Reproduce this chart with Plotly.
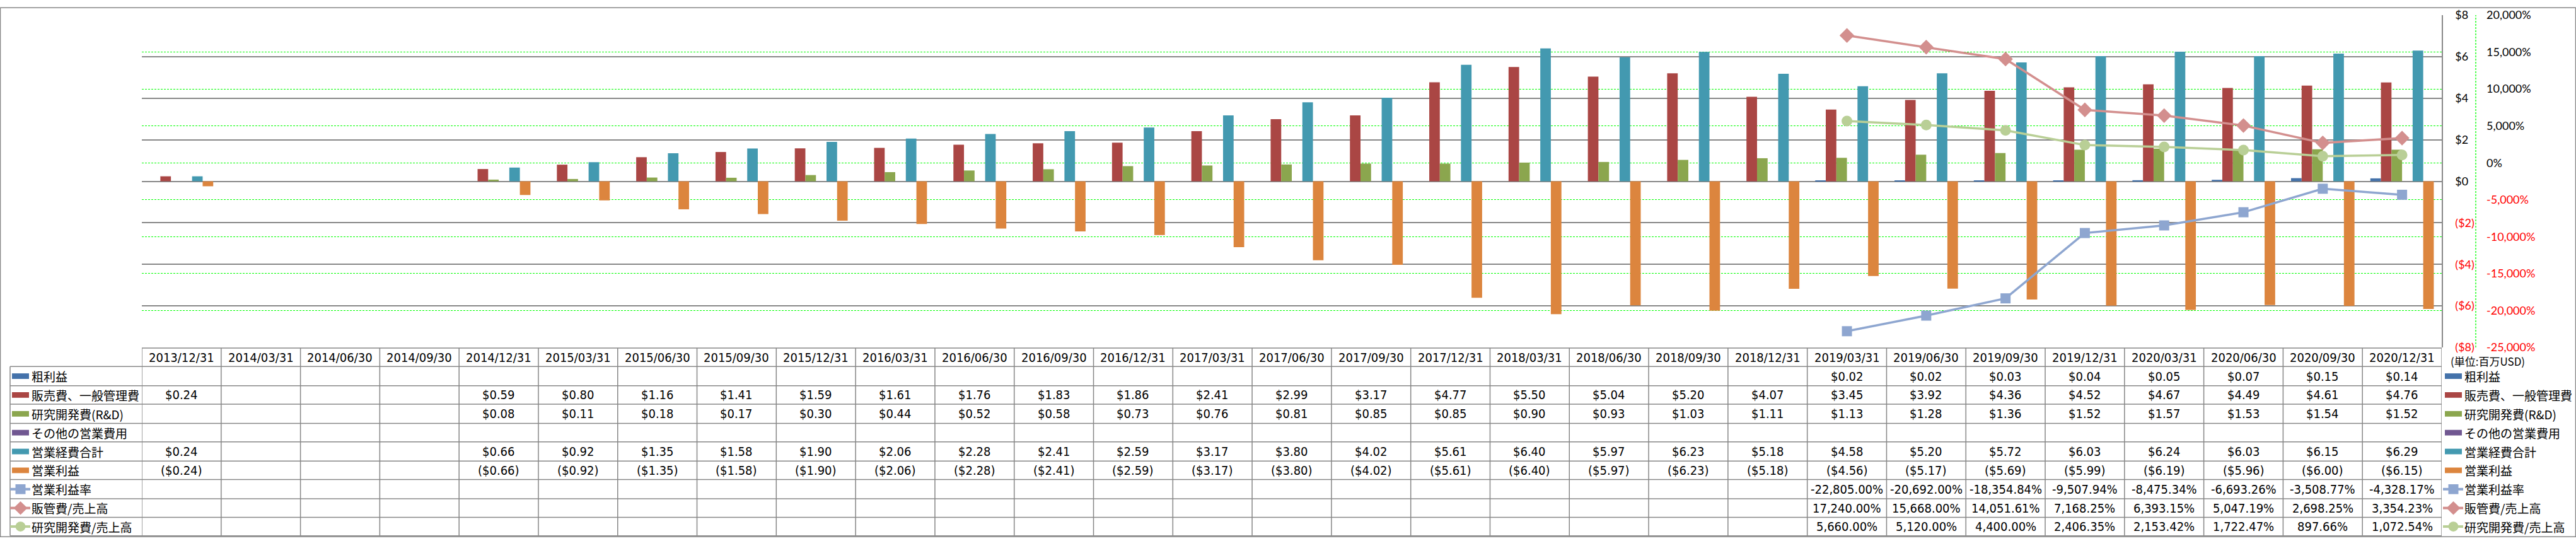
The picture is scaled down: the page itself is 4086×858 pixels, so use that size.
import plotly.graph_objects as go

# ---------------- data ----------------
categories = ["2013/12/31", "2014/03/31", "2014/06/30", "2014/09/30", "2014/12/31", "2015/03/31",
              "2015/06/30", "2015/09/30", "2015/12/31", "2016/03/31", "2016/06/30", "2016/09/30",
              "2016/12/31", "2017/03/31", "2017/06/30", "2017/09/30", "2017/12/31", "2018/03/31",
              "2018/06/30", "2018/09/30", "2018/12/31", "2019/03/31", "2019/06/30", "2019/09/30",
              "2019/12/31", "2020/03/31", "2020/06/30", "2020/09/30", "2020/12/31"]

gross_profit = [None, None, None, None, None, None, None, None, None, None, None, None, None, None,
                None, None, None, None, None, None, None, 0.02, 0.02, 0.03, 0.04, 0.05, 0.07, 0.15, 0.14]
sga = [0.24, None, None, None, 0.59, 0.80, 1.16, 1.41, 1.59, 1.61, 1.76, 1.83, 1.86, 2.41, 2.99,
       3.17, 4.77, 5.50, 5.04, 5.20, 4.07, 3.45, 3.92, 4.36, 4.52, 4.67, 4.49, 4.61, 4.76]
rnd = [None, None, None, None, 0.08, 0.11, 0.18, 0.17, 0.30, 0.44, 0.52, 0.58, 0.73, 0.76, 0.81,
       0.85, 0.85, 0.90, 0.93, 1.03, 1.11, 1.13, 1.28, 1.36, 1.52, 1.57, 1.53, 1.54, 1.52]
other_opex = [None, None, None, None, None, None, None, None, None, None, None, None, None, None,
              None, None, None, None, None, None, None, None, None, None, None, None, None, None, None]
total_opex = [0.24, None, None, None, 0.66, 0.92, 1.35, 1.58, 1.90, 2.06, 2.28, 2.41, 2.59, 3.17, 3.80,
              4.02, 5.61, 6.40, 5.97, 6.23, 5.18, 4.58, 5.20, 5.72, 6.03, 6.24, 6.03, 6.15, 6.29]
op_income = [-0.24, None, None, None, -0.66, -0.92, -1.35, -1.58, -1.90, -2.06, -2.28, -2.41, -2.59,
             -3.17, -3.80, -4.02, -5.61, -6.40, -5.97, -6.23, -5.18, -4.56, -5.17, -5.69, -5.99,
             -6.19, -5.96, -6.00, -6.15]
op_margin = [None, None, None, None, None, None, None, None, None, None, None, None, None, None,
             None, None, None, None, None, None, None, -22805.00, -20692.00, -18354.84, -9507.94,
             -8475.34, -6693.26, -3508.77, -4328.17]
sga_ratio = [None, None, None, None, None, None, None, None, None, None, None, None, None, None,
             None, None, None, None, None, None, None, 17240.00, 15668.00, 14051.61, 7168.25,
             6393.15, 5047.19, 2698.25, 3354.23]
rnd_ratio = [None, None, None, None, None, None, None, None, None, None, None, None, None, None,
             None, None, None, None, None, None, None, 5660.00, 5120.00, 4400.00, 2406.35,
             2153.42, 1722.47, 897.66, 1072.54]

y1_ticks = [-8, -6, -4, -2, 0, 2, 4, 6, 8]
y2_ticks = [-25000, -20000, -15000, -10000, -5000, 0, 5000, 10000, 15000, 20000]
unit_label = "(単位:百万USD)"

# ---------------- styles ----------------
W, H = 4086, 858
PX_L, PX_R, PX_AX2, PY_T, PY_B = 225, 3873, 3927, 13, 551
GRAY = "#878787"
GREEN_GRID = "#00FF00"
GREEN_DASH = "3px,2px"
NUM_FONT = "Liberation Sans Narrow, Arial Narrow, DejaVu Sans Condensed, sans-serif"
JP_FONT = "Noto Sans CJK JP, sans-serif"
AX_FONT = "Lato, Liberation Sans, sans-serif"

def fx(px):
    return (px - PX_L) / (PX_AX2 - PX_L)

def fy(py):
    return (PY_B - py) / (PY_B - PY_T)

def money(v):
    if v is None:
        return ""
    return f"${v:.2f}" if v >= 0 else f"(${-v:.2f})"

def pct(v):
    if v is None:
        return ""
    return f"{v:,.2f}%"

rows = [
    ("粗利益", gross_profit, money, "bar", "#4472AA", None),
    ("販売費、一般管理費", sga, money, "bar", "#AA4644", None),
    ("研究開発費(R&D)", rnd, money, "bar", "#8BA64E", None),
    ("その他の営業費用", other_opex, money, "bar", "#705791", None),
    ("営業経費合計", total_opex, money, "bar", "#4399B0", None),
    ("営業利益", op_income, money, "bar", "#DC853E", None),
    ("営業利益率", op_margin, pct, "line", "#8EA6D0", "square"),
    ("販管費/売上高", sga_ratio, pct, "line", "#D38F8E", "diamond"),
    ("研究開発費/売上高", rnd_ratio, pct, "line", "#B9CF96", "circle"),
]

fig = go.Figure()

for name, vals, _, kind, color, sym in rows:
    if kind == "bar":
        fig.add_trace(go.Bar(x=categories, y=vals, name=name, marker=dict(color=color, line=dict(width=0)),
                             yaxis="y", showlegend=False))
for name, vals, _, kind, color, sym in rows:
    if kind == "line":
        size = {"square": 16, "diamond": 18, "circle": 17}[sym]
        fig.add_trace(go.Scatter(x=categories, y=vals, name=name, mode="lines+markers",
                                 line=dict(color=color, width=3.5),
                                 marker=dict(symbol=sym, size=size, color=color),
                                 yaxis="y2", showlegend=False))

def y1_text(v):
    if v < 0:
        return f'<span style="color:#FF0000">(${-v})</span>'
    return f"${v}"

def y2_text(v):
    s = f"{v:,}%"
    if v < 0:
        return f'<span style="color:#FF0000">{s}</span>'
    return s

shapes = []
annotations = []

# outer border
shapes.append(dict(type="rect", xref="paper", yref="paper", x0=fx(0.5), x1=fx(4085.5), y0=fy(857.5), y1=fy(1),
                   line=dict(color=GRAY, width=1.5), fillcolor="rgba(0,0,0,0)", layer="below"))
# secondary axis dashed line
shapes.append(dict(type="line", xref="paper", yref="paper", x0=1, x1=1, y0=0, y1=1,
                   line=dict(color=GREEN_GRID, width=1.3, dash=GREEN_DASH)))

# table grid
row_bounds = [582, 613, 643, 674, 704, 735, 765, 796, 826, 856]
shapes.append(dict(type="line", xref="paper", yref="paper", x0=fx(PX_L), x1=fx(PX_R), y0=fy(552), y1=fy(552),
                   line=dict(color=GRAY, width=1.5)))
for b in row_bounds:
    shapes.append(dict(type="line", xref="paper", yref="paper", x0=fx(16), x1=fx(PX_R), y0=fy(b), y1=fy(b),
                       line=dict(color=GRAY, width=1.5)))
shapes.append(dict(type="line", xref="paper", yref="paper", x0=fx(16), x1=fx(16), y0=fy(582), y1=fy(856),
                   line=dict(color=GRAY, width=1.5)))
for i in range(len(categories) + 1):
    shapes.append(dict(type="line", xref="x", yref="paper", x0=i - 0.5, x1=i - 0.5, y0=fy(552), y1=fy(856),
                       line=dict(color=GRAY, width=1.5)))

# header
for c in categories:
    annotations.append(dict(x=c, xref="x", y=fy(567), yref="paper", text=c, showarrow=False,
                            font=dict(family=NUM_FONT, size=20, color="#000000"), xanchor="center", yanchor="middle"))

# rows
for r, (name, vals, fmt, kind, color, sym) in enumerate(rows):
    top, bot = row_bounds[r], row_bounds[r + 1]
    yc = (top + bot) / 2
    for c, v in zip(categories, vals):
        if v is not None:
            annotations.append(dict(x=c, xref="x", y=fy(yc), yref="paper", text=fmt(v), showarrow=False,
                                    font=dict(family=NUM_FONT, size=20, color="#000000"),
                                    xanchor="center", yanchor="middle"))
    for kx0, kx1, tx in ((19, 46, 48), (3878, 3905, 3907)):
        annotations.append(dict(x=fx(tx), xref="paper", y=fy(yc), yref="paper", text=name, showarrow=False,
                                font=dict(family=JP_FONT, size=19, color="#000000"),
                                xanchor="left", yanchor="middle"))
        if kind == "bar":
            shapes.append(dict(type="rect", xref="paper", yref="paper", x0=fx(kx0), x1=fx(kx1),
                               y0=fy(yc + 4.5), y1=fy(yc - 4.5), line=dict(width=0), fillcolor=color))
        else:
            shapes.append(dict(type="line", xref="paper", yref="paper", x0=fx(kx0 - 3), x1=fx(kx1 + 2),
                               y0=fy(yc), y1=fy(yc), line=dict(color=color, width=4)))
            cx = (kx0 + kx1) / 2
            if sym == "square":
                shapes.append(dict(type="rect", xref="paper", yref="paper", x0=fx(cx - 8), x1=fx(cx + 8),
                                   y0=fy(yc + 8), y1=fy(yc - 8), line=dict(width=0), fillcolor=color))
            elif sym == "circle":
                shapes.append(dict(type="circle", xref="paper", yref="paper", x0=fx(cx - 8), x1=fx(cx + 8),
                                   y0=fy(yc + 8), y1=fy(yc - 8), line=dict(width=0), fillcolor=color))
            else:
                path = (f"M {fx(cx - 11)},{fy(yc)} L {fx(cx)},{fy(yc - 11)} "
                        f"L {fx(cx + 11)},{fy(yc)} L {fx(cx)},{fy(yc + 11)} Z")
                shapes.append(dict(type="path", xref="paper", yref="paper", path=path,
                                   line=dict(width=0), fillcolor=color))

annotations.append(dict(x=fx(3885), xref="paper", y=fy(573), yref="paper", text=unit_label, showarrow=False,
                        font=dict(family=JP_FONT, size=17, color="#000000"), xanchor="left", yanchor="middle"))

fig.update_layout(
    width=W, height=H,
    margin=dict(l=PX_L, r=W - PX_AX2, t=PY_T, b=H - PY_B, pad=0),
    paper_bgcolor="#FFFFFF", plot_bgcolor="#FFFFFF",
    barmode="group", bargap=0.2, bargroupgap=0,
    showlegend=False,
    xaxis=dict(domain=[0, (PX_R - PX_L) / (PX_AX2 - PX_L)], type="category", range=[-0.5, len(categories) - 0.5],
               showticklabels=False, showgrid=False, zeroline=False, showline=False, ticks=""),
    yaxis=dict(side="right", range=[-8, 8], tickvals=y1_ticks, ticktext=[y1_text(v) for v in y1_ticks],
               showgrid=True, gridcolor=GRAY, gridwidth=1.5, zeroline=True, zerolinecolor=GRAY, zerolinewidth=1.5,
               showline=True, linecolor=GRAY, linewidth=1.5, ticks="", ticklabelstandoff=16,
               tickfont=dict(family=AX_FONT, size=18, color="#000000")),
    yaxis2=dict(overlaying="y", side="right", anchor="free", position=1, range=[-25000, 20000],
                tickvals=y2_ticks, ticktext=[y2_text(v) for v in y2_ticks],
                showgrid=True, gridcolor=GREEN_GRID, gridwidth=1.3, griddash=GREEN_DASH, zeroline=False,
                showline=False, ticks="", ticklabelstandoff=16,
                tickfont=dict(family=AX_FONT, size=18, color="#000000")),
    shapes=shapes,
    annotations=annotations,
)

fig.write_html("out.html", config={"displayModeBar": False},
               post_script="document.body.style.margin='0';document.body.style.overflow='hidden';")
